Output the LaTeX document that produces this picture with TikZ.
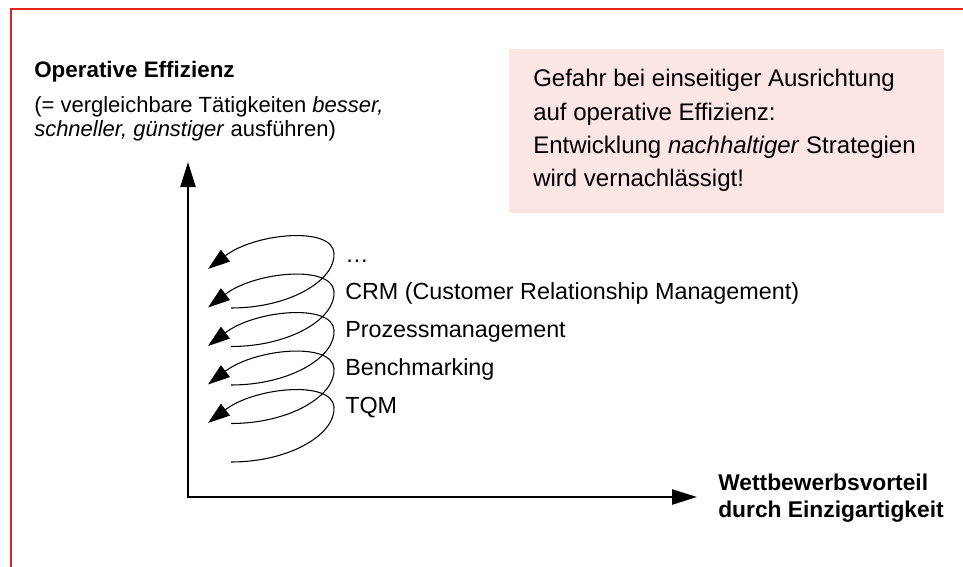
\documentclass[tikz,border=0pt]{standalone}
\usepackage{fontspec}
\setmainfont{Liberation Sans}
\usetikzlibrary{arrows.meta}
\definecolor{framered}{RGB}{226,35,26}
\definecolor{warnpink}{RGB}{251,229,229}

\begin{document}
\begin{tikzpicture}[x=0.75pt,y=-0.75pt,
  every node/.style={inner sep=0pt,anchor=base west,font=\fontsize{16.5pt}{17.25pt}\selectfont},
  boldtext/.style={font=\bfseries\fontsize{16.8pt}{17.25pt}\selectfont},
  axislabel/.style={font=\bfseries\fontsize{17.1pt}{20pt}\selectfont},
  boxtext/.style={font=\fontsize{18pt}{20pt}\selectfont},
  methodtext/.style={font=\fontsize{17.5pt}{20pt}\selectfont},
  axis/.style={line width=1.75pt,{Triangle[length=18.75pt,width=11.25pt]}-{Triangle[length=18.75pt,width=11.25pt]}},
  spiralloop/.style={line width=0.8pt,-{Triangle[length=16.5pt,width=11pt]}},
  redframe/.style={draw=framered,line width=1.1pt},
  warnbox/.style={fill=warnpink,anchor=north west,minimum width=326.25pt,minimum height=123pt}]
\useasboundingbox (0,0) rectangle (963,567);
\draw[redframe] (11,600) -- (11,9) -- (990,9);

% axes
\coordinate (origin) at (188,497);
\coordinate (ytip) at (188,162);
\coordinate (xtip) at (697,497);
\draw[axis] (ytip) -- (origin) -- (xtip);

\node[boldtext] (effhead) at (34,78) {Operative Effizienz};
\node (effsub1) at (34,112) {(= vergleichbare T\"atigkeiten \textit{besser,}};
\node (effsub2) at (34,136) {\textit{schneller, g\"unstiger} ausf\"uhren)};
\node[axislabel] (xlabel1) at (718,490) {Wettbewerbsvorteil};
\node[axislabel] (xlabel2) at (718,517) {durch Einzigartigkeit};

% warning box
\node[warnbox] (warn) at (509,49) {};
\node[boxtext] (warn1) at (533,87) {Gefahr bei einseitiger Ausrichtung};
\node[boxtext] (warn2) at (533,120) {auf operative Effizienz:};
\node[boxtext] (warn3) at (533,153) {Entwicklung \textit{nachhaltiger} Strategien};
\node[boxtext] (warn4) at (533,186) {wird vernachl\"assigt!};

% spiral
\foreach \i in {0,...,4}{
  \pgfmathsetmacro{\y}{462-38.5*\i}
  \draw[spiralloop] (231,\y) .. controls (290,\y) and (336,\y-28) .. (334,\y-55)
    .. controls (332,\y-82) and (255,\y-75) .. (208,\y-39);
}
\foreach \t [count=\i from 0] in {TQM,Benchmarking,Prozessmanagement,CRM (Customer Relationship Management),\ldots}
  \node[methodtext] (method\i) at (345,413-37.75*\i) {\t};
\end{tikzpicture}
\end{document}
